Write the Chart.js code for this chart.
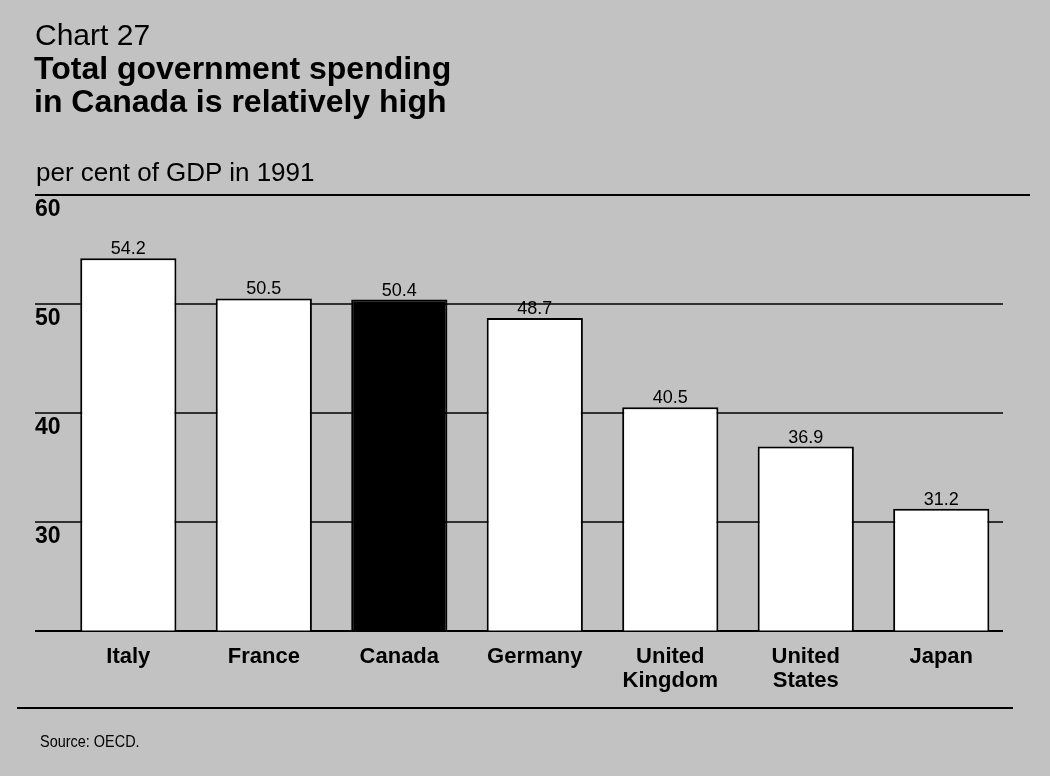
<!DOCTYPE html>
<html>
<head>
<title>Chart 27</title>
<style>
  body { margin: 0; background: #c2c2c2; font-family: 'Liberation Sans', Arial, sans-serif; color: #000; }
  #wrap { position: relative; width: 1050px; height: 776px; overflow: hidden; }
  #chart { position: absolute; left: 0; top: 0; }
  .txt { position: absolute; white-space: nowrap; line-height: 1; }
  .narrow { transform: scaleX(0.85); transform-origin: left top; }
</style>
<script src="https://cdn.jsdelivr.net/npm/chart.js@4/dist/chart.umd.min.js"></script>
</head>
<body>
<div id="wrap">
  <canvas id="chart" width="1050" height="776"></canvas>
  <div class="txt" style="left:35px;top:20px;font-size:30px;">Chart 27</div>
  <div class="txt" style="left:34px;top:52px;font-size:32px;font-weight:bold;">Total government spending</div>
  <div class="txt" style="left:34px;top:85px;font-size:32px;font-weight:bold;">in Canada is relatively high</div>
  <div class="txt" style="left:36px;top:159px;font-size:26px;">per cent of GDP in 1991</div>
  <div class="txt narrow" style="left:40px;top:733px;font-size:17px;">Source: OECD.</div>
</div>
<script>
// data
const countries = ['Italy', 'France', 'Canada', 'Germany', ['United', 'Kingdom'], ['United', 'States'], 'Japan'];
const spending = [54.2, 50.5, 50.4, 48.7, 40.5, 36.9, 31.2];
const highlight = 'Canada';
const yMin = 20;
const yMax = 60;
const yStep = 10;

const FONT = "'Liberation Sans', Arial, sans-serif";

const barColors = countries.map(c => c === highlight ? '#000' : '#fff');

// horizontal rules, value labels
const decor = {
  id: 'decor',
  beforeDatasetsDraw(chart) {
    const ctx = chart.ctx;
    const y = chart.scales.y;
    ctx.save();
    ctx.strokeStyle = '#000';
    y.ticks.forEach(t => {
      const py = Math.round(y.getPixelForValue(t.value));
      ctx.lineWidth = (t.value === yMax || t.value === yMin) ? 2 : 1.5;
      ctx.beginPath();
      ctx.moveTo(35, py);
      ctx.lineTo(t.value === yMax ? 1030 : 1003, py);
      ctx.stroke();
    });
    // rule above the source note
    ctx.lineWidth = 2;
    ctx.beginPath();
    ctx.moveTo(17, 708);
    ctx.lineTo(1013, 708);
    ctx.stroke();
    ctx.restore();
  },
  afterDatasetsDraw(chart) {
    const ctx = chart.ctx;
    const meta = chart.getDatasetMeta(0);
    ctx.save();
    ctx.fillStyle = '#000';
    ctx.font = '18px ' + FONT;
    ctx.textAlign = 'center';
    ctx.textBaseline = 'alphabetic';
    meta.data.forEach((bar, i) => {
      ctx.fillText(spending[i].toFixed(1), bar.x, bar.y - 4);
    });
    ctx.restore();
  }
};

new Chart(document.getElementById('chart'), {
  type: 'bar',
  data: {
    labels: countries,
    datasets: [{
      data: spending,
      backgroundColor: barColors,
      borderColor: '#000',
      borderWidth: 2,
      categoryPercentage: 1,
      barPercentage: 0.71
    }]
  },
  options: {
    responsive: false,
    animation: false,
    layout: { padding: { top: 195, left: 35, right: 41, bottom: 69 } },
    plugins: {
      legend: { display: false },
      tooltip: { enabled: false }
    },
    scales: {
      x: {
        grid: { display: false, drawTicks: false },
        border: { display: false },
        ticks: {
          color: '#000',
          padding: 14,
          maxRotation: 0,
          autoSkip: false,
          font: { family: FONT, size: 22, weight: 'bold', lineHeight: 1.1 }
        }
      },
      y: {
        min: yMin,
        max: yMax,
        grid: { display: false, drawTicks: false },
        border: { display: false },
        ticks: {
          stepSize: yStep,
          padding: 0,
          crossAlign: 'far',
          labelOffset: 15,
          color: '#000',
          font: { family: FONT, size: 23, weight: 'bold' },
          callback: v => v === yMin ? '' : v
        }
      }
    }
  },
  plugins: [decor]
});
</script>
</body>
</html>
